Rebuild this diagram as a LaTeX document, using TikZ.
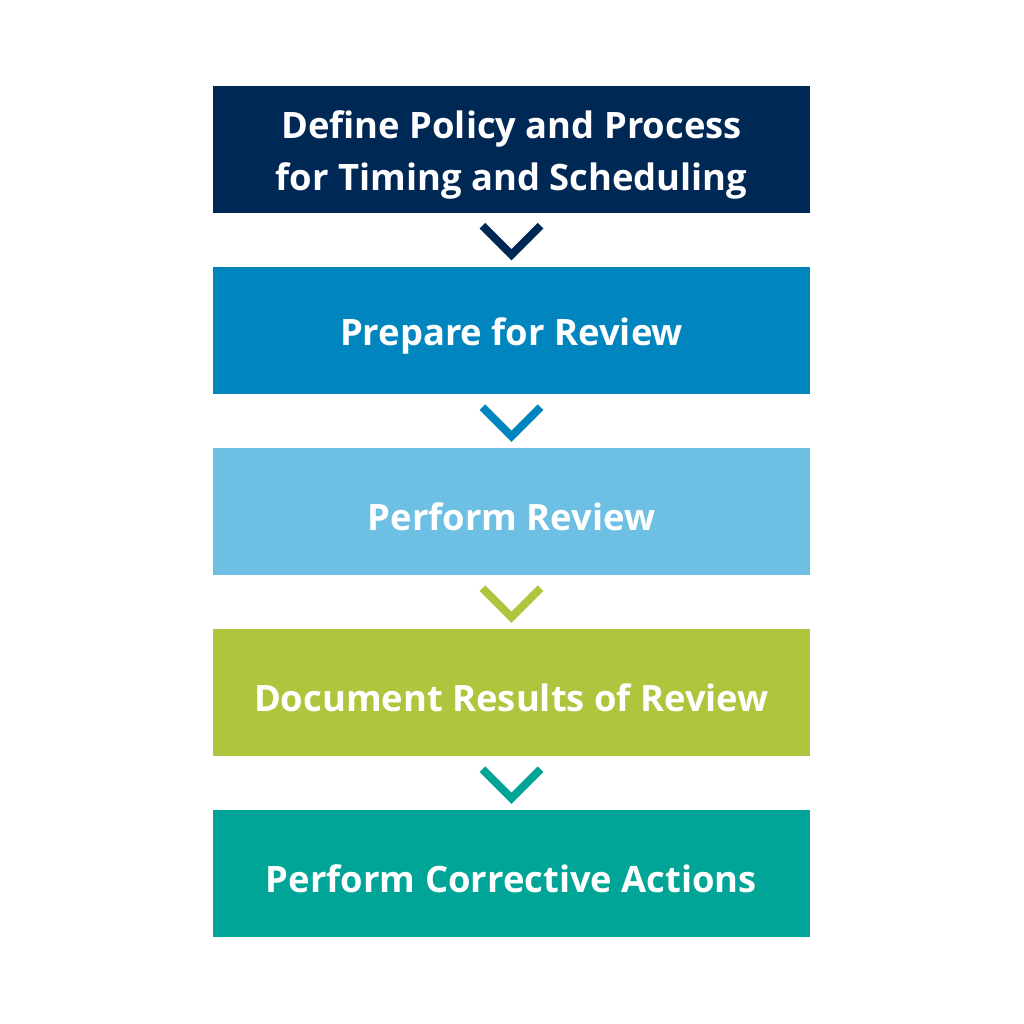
\documentclass[tikz,border=0pt]{standalone}
\usepackage{fontspec}
\setmainfont{Open Sans}
\usepackage{tikz}
\usetikzlibrary{calc}
\definecolor{navy}{RGB}{0,40,85}
\definecolor{midblue}{RGB}{0,133,190}
\definecolor{lightblue}{RGB}{110,191,228}
\definecolor{lime}{RGB}{173,198,62}
\definecolor{teal}{RGB}{0,165,152}

\begin{document}
\begin{tikzpicture}[
    stepbox/.style={rectangle, minimum width=5.97cm, minimum height=1.27cm,
      inner sep=0pt},
    steptext/.style={text=white, align=center, yshift=-0.05cm,
      font=\fontsize{10.35}{14.8}\selectfont\bfseries},
    chev/.style={line width=0.08cm, miter limit=10}
  ]
    \useasboundingbox (0,0) rectangle (10.24,10.24);

   \node[stepbox, fill=navy, label={[steptext]center:Define Policy and Process\\for Timing and Scheduling}] (define) at (5.115,8.745) {};
   \node[stepbox, fill=midblue, label={[steptext]center:Prepare for Review}] (prepare) at (5.115,6.93) {};
   \node[stepbox, fill=lightblue, label={[steptext]center:Perform Review}] (perform) at (5.115,5.12) {};
   \node[stepbox, fill=lime, label={[steptext]center:Document Results of Review}] (document) at (5.115,3.31) {};
   \node[stepbox, fill=teal, label={[steptext]center:Perform Corrective Actions}] (corrective) at (5.115,1.50) {};

% chevrons between the boxes
\draw[chev, navy] ($(define.south)+(-0.29,-0.12)$) -- ($(define.south)+(0,-0.41)$) -- ($(define.south)+(0.29,-0.12)$);
\draw[chev, midblue] ($(prepare.south)+(-0.29,-0.12)$) -- ($(prepare.south)+(0,-0.41)$) -- ($(prepare.south)+(0.29,-0.12)$);
\draw[chev, lime] ($(perform.south)+(-0.29,-0.12)$) -- ($(perform.south)+(0,-0.41)$) -- ($(perform.south)+(0.29,-0.12)$);
\draw[chev, teal] ($(document.south)+(-0.29,-0.12)$) -- ($(document.south)+(0,-0.41)$) -- ($(document.south)+(0.29,-0.12)$);

  \end{tikzpicture}
\end{document}
